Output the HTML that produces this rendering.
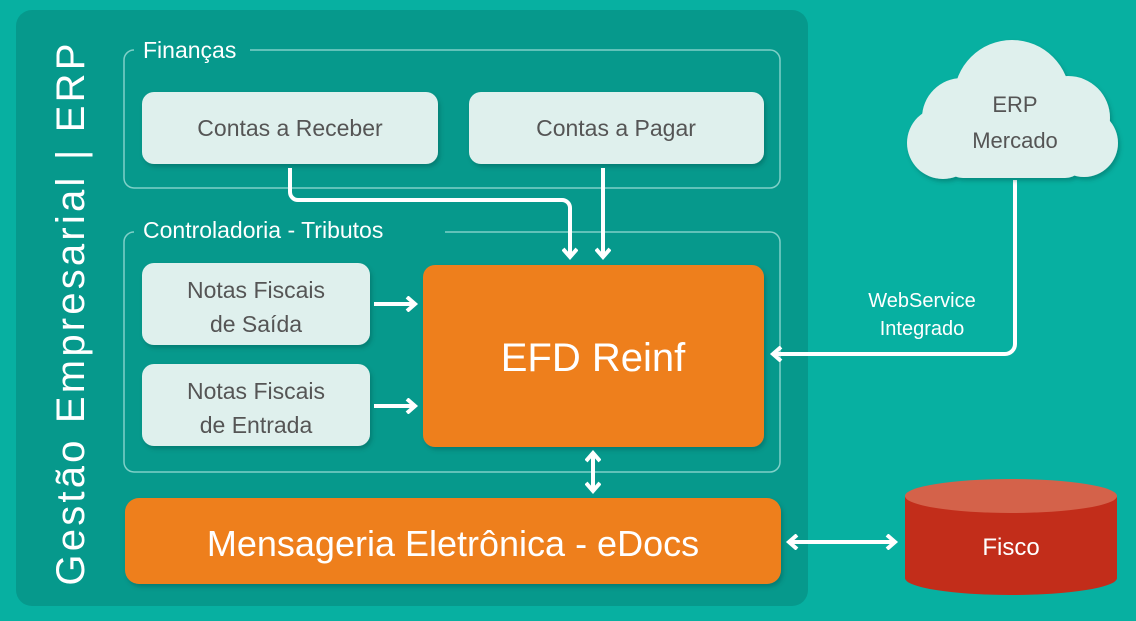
<!DOCTYPE html>
<html><head><meta charset="utf-8"><style>
body{margin:0;width:1136px;height:616px;overflow:hidden;background:#07b0a1;font-family:"Liberation Sans","DejaVu Sans",sans-serif}
</style></head><body>
<svg width="1136" height="616" viewBox="0 0 1136 616" xmlns="http://www.w3.org/2000/svg" font-family="Liberation Sans, DejaVu Sans, sans-serif">
<defs>
<marker id="ah" markerWidth="16" markerHeight="16" refX="9" refY="8" orient="auto-start-reverse" markerUnits="userSpaceOnUse"><path d="M2,1 L10,8 L2,15" fill="none" stroke="#fff" stroke-width="4"/></marker>
<filter id="sh" x="-10%" y="-10%" width="130%" height="140%"><feDropShadow dx="2" dy="3" stdDeviation="2" flood-color="#004a42" flood-opacity="0.35"/></filter>
</defs>
<rect width="1136" height="616" fill="#07b0a1"/>
<rect x="16" y="10" width="792" height="596" rx="16" fill="#06998c"/>
<text transform="translate(84,313) rotate(-90)" text-anchor="middle" font-size="40" fill="#fff" letter-spacing="3.2">Gestão Empresarial | ERP</text>
<path d="M250,50 H770 a10,10 0 0 1 10,10 V178 a10,10 0 0 1 -10,10 H134 a10,10 0 0 1 -10,-10 V60 a10,10 0 0 1 10,-10" fill="none" stroke="#7fd0c8" stroke-width="1.5"/>
<text x="143" y="58" font-size="23" fill="#fff">Finanças</text>
<path d="M445,232 H770 a10,10 0 0 1 10,10 V462 a10,10 0 0 1 -10,10 H134 a10,10 0 0 1 -10,-10 V242 a10,10 0 0 1 10,-10" fill="none" stroke="#7fd0c8" stroke-width="1.5"/>
<text x="143" y="238" font-size="23" fill="#fff">Controladoria - Tributos</text>
<g filter="url(#sh)" fill="#dff0ed">
<rect x="142" y="92" width="296" height="72" rx="12"/>
<rect x="469" y="92" width="295" height="72" rx="12"/>
<rect x="142" y="263" width="228" height="82" rx="12"/>
<rect x="142" y="364" width="228" height="82" rx="12"/>
</g>
<g font-size="23" fill="#555" text-anchor="middle">
<text x="290" y="136">Contas a Receber</text>
<text x="616" y="136">Contas a Pagar</text>
<text x="256" y="298">Notas Fiscais</text><text x="256" y="332">de Saída</text>
<text x="256" y="399">Notas Fiscais</text><text x="256" y="433">de Entrada</text>
</g>
<rect x="423" y="265" width="341" height="182" rx="12" fill="#ee7f1a" filter="url(#sh)"/>
<text x="593" y="371" font-size="40" fill="#fff" text-anchor="middle">EFD Reinf</text>
<rect x="125" y="498" width="656" height="86" rx="14" fill="#ee7f1a" filter="url(#sh)"/>
<text x="453" y="556" font-size="36" fill="#fff" text-anchor="middle">Mensageria Eletrônica - eDocs</text>
<g stroke="#fff" stroke-width="4" fill="none">
<path d="M290,168 V192 a8,8 0 0 0 8,8 H562 a8,8 0 0 1 8,8 V256" marker-end="url(#ah)"/>
<path d="M603,168 V256" marker-end="url(#ah)"/>
<path d="M374,304 H414" marker-end="url(#ah)"/>
<path d="M374,406 H414" marker-end="url(#ah)"/>
<path d="M593,454 V490" marker-end="url(#ah)" marker-start="url(#ah)"/>
<path d="M1015,180 V344 a10,10 0 0 1 -10,10 H774" marker-end="url(#ah)"/>
<path d="M790,542 H894" marker-end="url(#ah)" marker-start="url(#ah)"/>
</g>
<text x="922" y="307" font-size="20" fill="#fff" text-anchor="middle">WebService</text>
<text x="922" y="335" font-size="20" fill="#fff" text-anchor="middle">Integrado</text>
<g fill="#dff0ed" filter="url(#sh)">
<circle cx="1012" cy="98" r="58"/>
<circle cx="962" cy="118" r="40"/>
<circle cx="1068" cy="118" r="42"/>
<circle cx="943" cy="143" r="36"/>
<circle cx="1084" cy="143" r="34"/>
<rect x="943" y="128" width="142" height="50" rx="20"/>
</g>
<text x="1015" y="112" font-size="22" fill="#555" text-anchor="middle">ERP</text>
<text x="1015" y="148" font-size="22" fill="#555" text-anchor="middle">Mercado</text>
<path d="M905,496 V578 A106,17 0 0 0 1117,578 V496 Z" fill="#c22d1a"/>
<ellipse cx="1011" cy="496" rx="106" ry="17" fill="#d4624a"/>
<text x="1011" y="555" font-size="24" fill="#fff" text-anchor="middle">Fisco</text>
</svg>
</body></html>
